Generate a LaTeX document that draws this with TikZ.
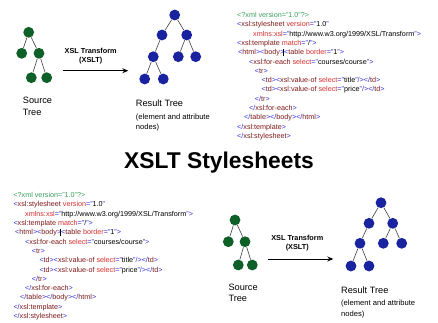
\documentclass[tikz,border=0pt]{standalone}
\usepackage{fontspec}
\setmainfont{Liberation Sans}
\usetikzlibrary{arrows.meta}
\definecolor{pigreen}{RGB}{60,160,95}
\definecolor{brk}{RGB}{45,45,215}
\definecolor{tagn}{RGB}{125,25,25}
\definecolor{attr}{RGB}{215,45,45}
\definecolor{gnode}{RGB}{15,95,40}
\definecolor{bnode}{RGB}{25,35,160}
\newcommand\kB[1]{\textcolor{brk}{#1}}
\newcommand\kT[1]{\textcolor{tagn}{#1}}
\newcommand\kA[1]{\textcolor{attr}{#1}}
\newcommand\kV[1]{\textcolor{black}{#1}}
\newcommand\kCur{\llap{\rule[-0.8pt]{0.45pt}{6.2pt}\hspace{0.6pt}}}
\newcommand\xLa{\textcolor{pigreen}{<?xml version="1.0"?>}}
\newcommand\xLb{\kB{<}\kT{xsl:stylesheet} \kA{version}\kB{="}\kV{1.0}\kB{"}}
\newcommand\xLc{\kA{xmlns:xsl}\kB{="}\kV{http://www.w3.org/1999/XSL/Transform}\kB{">}}
\newcommand\xLd{\kB{<}\kT{xsl:template} \kA{match}\kB{="}\kV{/}\kB{">}}
\newcommand\xLe{\kB{<}\kT{html}\kB{><}\kT{body}\kB{>}\kCur\kB{<}\kT{table} \kA{border}\kB{="}\kV{1}\kB{">}}
\newcommand\xLf{\kB{<}\kT{xsl:for-each} \kA{select}\kB{="}\kV{courses/course}\kB{">}}
\newcommand\xLg{\kB{<}\kT{tr}\kB{>}}
\newcommand\xLh{\kB{<}\kT{td}\kB{><}\kT{xsl:value-of} \kA{select}\kB{="}\kV{title}\kB{"/></}\kT{td}\kB{>}}
\newcommand\xLi{\kB{<}\kT{td}\kB{><}\kT{xsl:value-of} \kA{select}\kB{="}\kV{price}\kB{"/></}\kT{td}\kB{>}}
\newcommand\xLj{\kB{</}\kT{tr}\kB{>}}
\newcommand\xLk{\kB{</}\kT{xsl:for-each}\kB{>}}
\newcommand\xLl{\kB{</}\kT{table}\kB{></}\kT{body}\kB{></}\kT{html}\kB{>}}
\newcommand\xLm{\kB{</}\kT{xsl:template}\kB{>}}
\newcommand\xLn{\kB{</}\kT{xsl:stylesheet}\kB{>}}
\begin{document}
\begin{tikzpicture}[x=1pt,y=-1pt,
  codeline/.style={anchor=base west,inner sep=0pt,font=\fontsize{7.2}{9}\selectfont},
  gdot/.style={circle,fill=gnode,minimum size=10.8pt,inner sep=0pt},
  bdot/.style={circle,fill=bnode,minimum size=10.8pt,inner sep=0pt},
  tedge/.style={draw=black!75,line width=0.6pt},
  xarrow/.style={draw=black,line width=0.8pt,-{Stealth[length=6pt,width=5pt]}},
  xlabel/.style={align=center,inner sep=0pt,font=\bfseries\fontsize{7.3}{9}\selectfont},
  treelabel/.style={anchor=west,align=left,inner sep=0pt,font=\fontsize{9.2}{12}\selectfont},
  sublabel/.style={anchor=west,align=left,inner sep=0pt,font=\fontsize{7.6}{9.6}\selectfont},
  title/.style={inner sep=0pt,font=\bfseries\fontsize{22.8}{26}\selectfont}]
\path[use as bounding box,fill=white] (0,0) rectangle (438,323);

% ---------- top-left source tree ----------
\node[gdot] (sa) at (28.7,32.3) {};
\node[gdot] (sb) at (21.7,53.3) {};
\node[gdot] (sc) at (39,53.3) {};
\node[gdot] (sd) at (31.3,77.7) {};
\node[gdot] (se) at (46.7,77.7) {};
\draw[tedge] (sa) -- (sb);
\draw[tedge] (sa) -- (sc);
\draw[tedge] (sc) -- (sd);
\draw[tedge] (sc) -- (se);

% arrow
\coordinate (ta1) at (62.7,70.7);
\coordinate (ta2) at (128.3,70.7);
\draw[xarrow] (ta1) -- (ta2);
\node[xlabel] (tl) at (90.7,56.2) {XSL Transform\\(XSLT)};

% ---------- top result tree ----------
\node[bdot] (ra) at (174.7,15) {};
\node[bdot] (rb) at (162,35) {};
\node[bdot] (rc) at (186.7,35) {};
\node[bdot] (rd) at (153.3,56.7) {};
\node[bdot] (re) at (178.3,56.7) {};
\node[bdot] (rf) at (195.7,56.7) {};
\node[bdot] (rg) at (144.7,79) {};
\node[bdot] (rh) at (163.3,79) {};
\draw[tedge] (ra) -- (rb);
\draw[tedge] (ra) -- (rc);
\draw[tedge] (rb) -- (rd);
\draw[tedge] (rc) -- (re);
\draw[tedge] (rc) -- (rf);
\draw[tedge] (rd) -- (rg);
\draw[tedge] (rd) -- (rh);

\node[treelabel] (tsrc) at (22.7,106) {Source\\Tree};
\node[treelabel] (tres) at (135.7,103.3) {Result Tree};
\node[sublabel] (tsub) at (135.7,122.5) {(element and attribute\\nodes)};

% ---------- top code ----------
\node[codeline] (c1) at (237,17.6) {\xLa};
\node[codeline] (c2) at (237,26.9) {\xLb};
\node[codeline] (c3) at (253,36.2) {\xLc};
\node[codeline] (c4) at (237,45.5) {\xLd};
\node[codeline] (c5) at (238,54.8) {\xLe};
\node[codeline] (c6) at (249,64.1) {\xLf};
\node[codeline] (c7) at (254.7,73.4) {\xLg};
\node[codeline] (c8) at (261.4,82.7) {\xLh};
\node[codeline] (c9) at (261.4,92) {\xLi};
\node[codeline] (c10) at (254.7,101.3) {\xLj};
\node[codeline] (c11) at (249,110.6) {\xLk};
\node[codeline] (c12) at (244,119.9) {\xLl};
\node[codeline] (c13) at (237,129.2) {\xLm};
\node[codeline] (c14) at (237,138.5) {\xLn};

% ---------- title ----------
\node[title] (ttl) at (219,162.7) {XSLT Stylesheets};

% ---------- bottom code ----------
\node[codeline] (d1) at (13.3,197.6) {\xLa};
\node[codeline] (d2) at (13.3,206.9) {\xLb};
\node[codeline] (d3) at (25,216.2) {\xLc};
\node[codeline] (d4) at (13.3,225.5) {\xLd};
\node[codeline] (d5) at (15,234.8) {\xLe};
\node[codeline] (d6) at (25,244.1) {\xLf};
\node[codeline] (d7) at (31.7,253.4) {\xLg};
\node[codeline] (d8) at (39.3,262.7) {\xLh};
\node[codeline] (d9) at (39.3,272) {\xLi};
\node[codeline] (d10) at (31.7,281.3) {\xLj};
\node[codeline] (d11) at (25,290.6) {\xLk};
\node[codeline] (d12) at (20,299.9) {\xLl};
\node[codeline] (d13) at (13.3,309.2) {\xLm};
\node[codeline] (d14) at (13.3,318.5) {\xLn};

% ---------- bottom source tree ----------
\node[gdot] (ua) at (235,220) {};
\node[gdot] (ub) at (228.3,241.7) {};
\node[gdot] (uc) at (245,241.7) {};
\node[gdot] (ud) at (238.3,265) {};
\node[gdot] (ue) at (252.3,265) {};
\draw[tedge] (ua) -- (ub);
\draw[tedge] (ua) -- (uc);
\draw[tedge] (uc) -- (ud);
\draw[tedge] (uc) -- (ue);

\coordinate (ba1) at (268.3,259);
\coordinate (ba2) at (333.3,259);
\draw[xarrow] (ba1) -- (ba2);
\node[xlabel] (bl) at (297.3,242.8) {XSL Transform\\(XSLT)};

% ---------- bottom result tree ----------
\node[bdot] (va) at (381,202.7) {};
\node[bdot] (vb) at (369,223.3) {};
\node[bdot] (vc) at (392.7,223.3) {};
\node[bdot] (vd) at (360,243.3) {};
\node[bdot] (ve) at (383.3,243.3) {};
\node[bdot] (vf) at (401.7,243.3) {};
\node[bdot] (vg) at (351,266) {};
\node[bdot] (vh) at (369,266) {};
\draw[tedge] (va) -- (vb);
\draw[tedge] (va) -- (vc);
\draw[tedge] (vb) -- (vd);
\draw[tedge] (vc) -- (ve);
\draw[tedge] (vc) -- (vf);
\draw[tedge] (vd) -- (vg);
\draw[tedge] (vd) -- (vh);

\node[treelabel,font=\fontsize{9.2}{11}\selectfont] (bsrc) at (228.3,292.8) {Source\\Tree};
\node[treelabel] (bres) at (341,290) {Result Tree};
\node[sublabel,font=\fontsize{7.6}{11}\selectfont] (bsub) at (341,309.5) {(element and attribute\\nodes)};
\end{tikzpicture}
\end{document}
